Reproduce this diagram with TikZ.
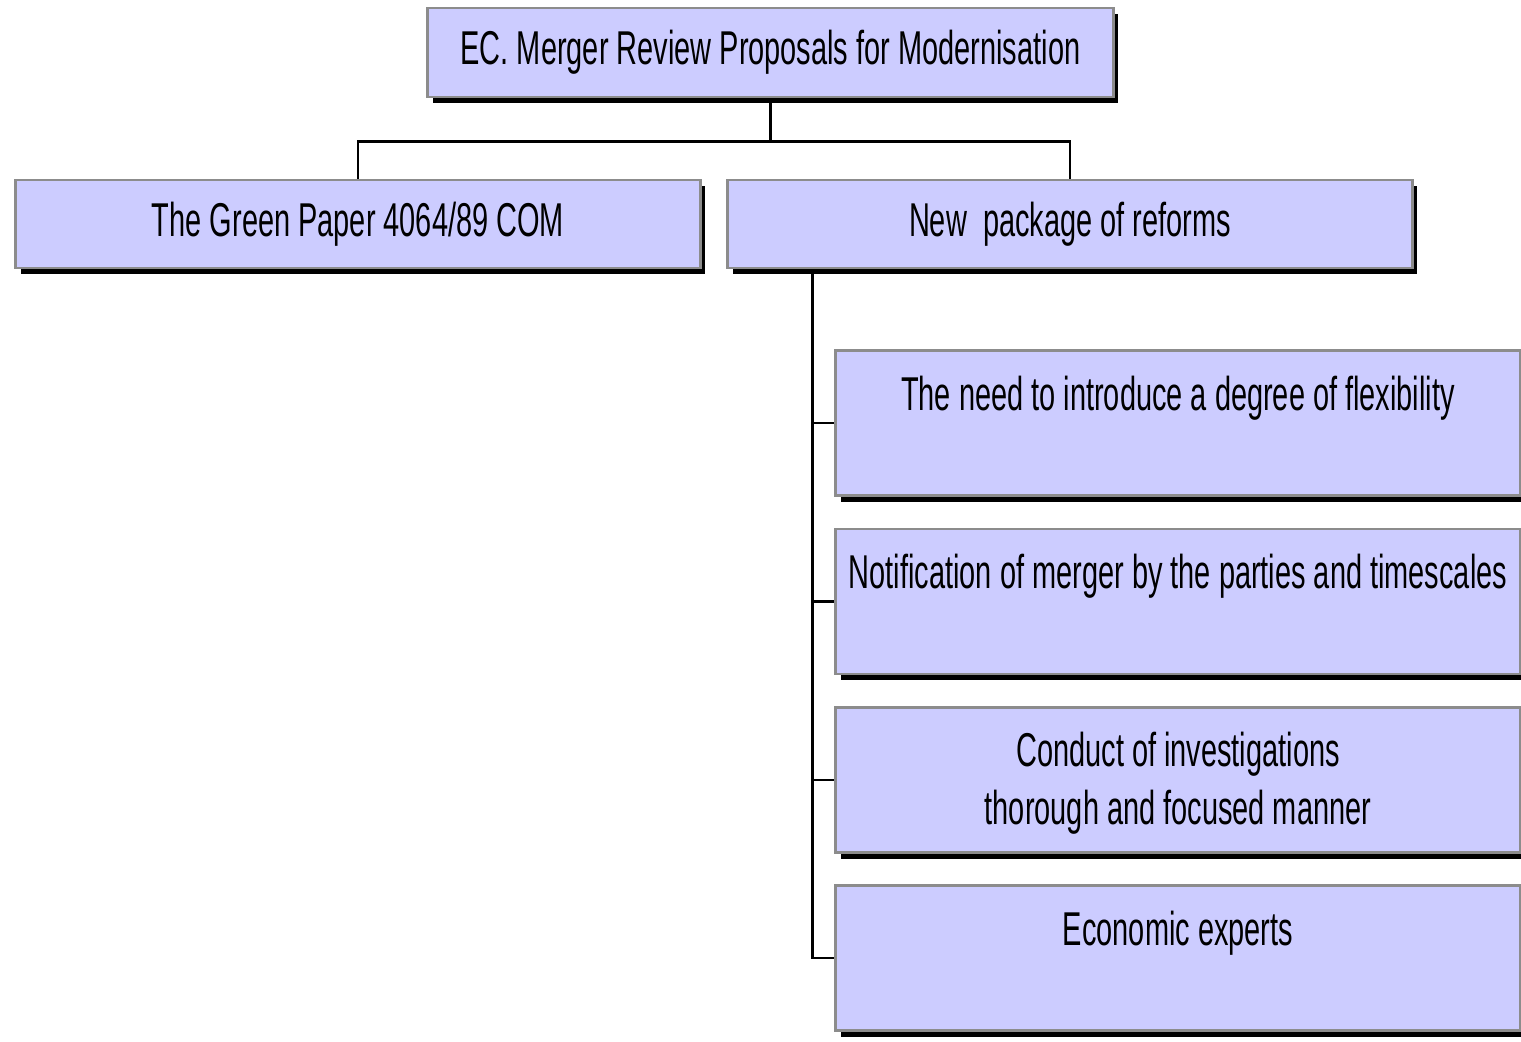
\documentclass[tikz,border=0pt]{standalone}
\usepackage{fontspec}
\setmainfont{Liberation Sans}[FakeStretch=0.61]
\usetikzlibrary{shadows,backgrounds}
\definecolor{boxfill}{HTML}{CCCCFF}
\definecolor{boxline}{HTML}{8C8C8C}
\tikzset{
  box/.style={draw=boxline, fill=boxfill, line width=0.8pt, inner sep=0pt,
    minimum width=6.84cm, minimum height=0.88cm,
    drop shadow={shadow xshift=0.05cm, shadow yshift=-0.06cm, fill=black, opacity=1}},
  tallbox/.style={box, minimum height=1.45cm},
  boxtext/.style={anchor=north, inner sep=0pt, align=center},
  link/.style={line width=0.6pt}
}

\begin{document}
\begin{tikzpicture}[x=0.01cm, y=-0.01cm, font=\fontsize{13.5}{16.5}\selectfont]
	%%%%% START %%%%%
	\useasboundingbox (0,0) rectangle (1521,1041);
	
	\node[box, minimum width=6.85cm, minimum height=0.89cm] (review) at (770.5,52.5) {EC. Merger Review Proposals for Modernisation};
	
	\node[box] (green) at (358,224) {The Green Paper 4064/89 COM};
	\node[box] (reforms) at (1070,224) {New\ \ package of reforms};
	
	\node[tallbox] (flex) at (1178,423) {};
	\node[tallbox] (notif) at (1178,601.5) {};
	\node[tallbox] (conduct) at (1178,780) {};
	\node[tallbox] (experts) at (1178,958) {};
	
	\node[boxtext] (flextxt) at ([yshift=-0.26cm]flex.north) {The need to introduce a degree of flexibility};
	\node[boxtext] (notiftxt) at ([yshift=-0.26cm]notif.north) {Notification of merger by the parties and timescales};
	\node[boxtext] (conducttxt) at ([yshift=-0.25cm]conduct.north) {Conduct of investigations\\thorough and focused manner};
	\node[boxtext] (expertstxt) at ([yshift=-0.26cm]experts.north) {Economic experts};
	
	\begin{scope}[on background layer]
		\draw[link] (review.south) -- ++(0,43) coordinate (split);
		\draw[link] (green.north) |- (split) -| (reforms.north);
		
		\coordinate (spine) at ([xshift=0.86cm]reforms.south west);
		\foreach \kid in {flex,notif,conduct,experts}
			\draw[link] (spine) |- (\kid.west);
	\end{scope}
	
	%%%%% END %%%%%
\end{tikzpicture}
\end{document}
